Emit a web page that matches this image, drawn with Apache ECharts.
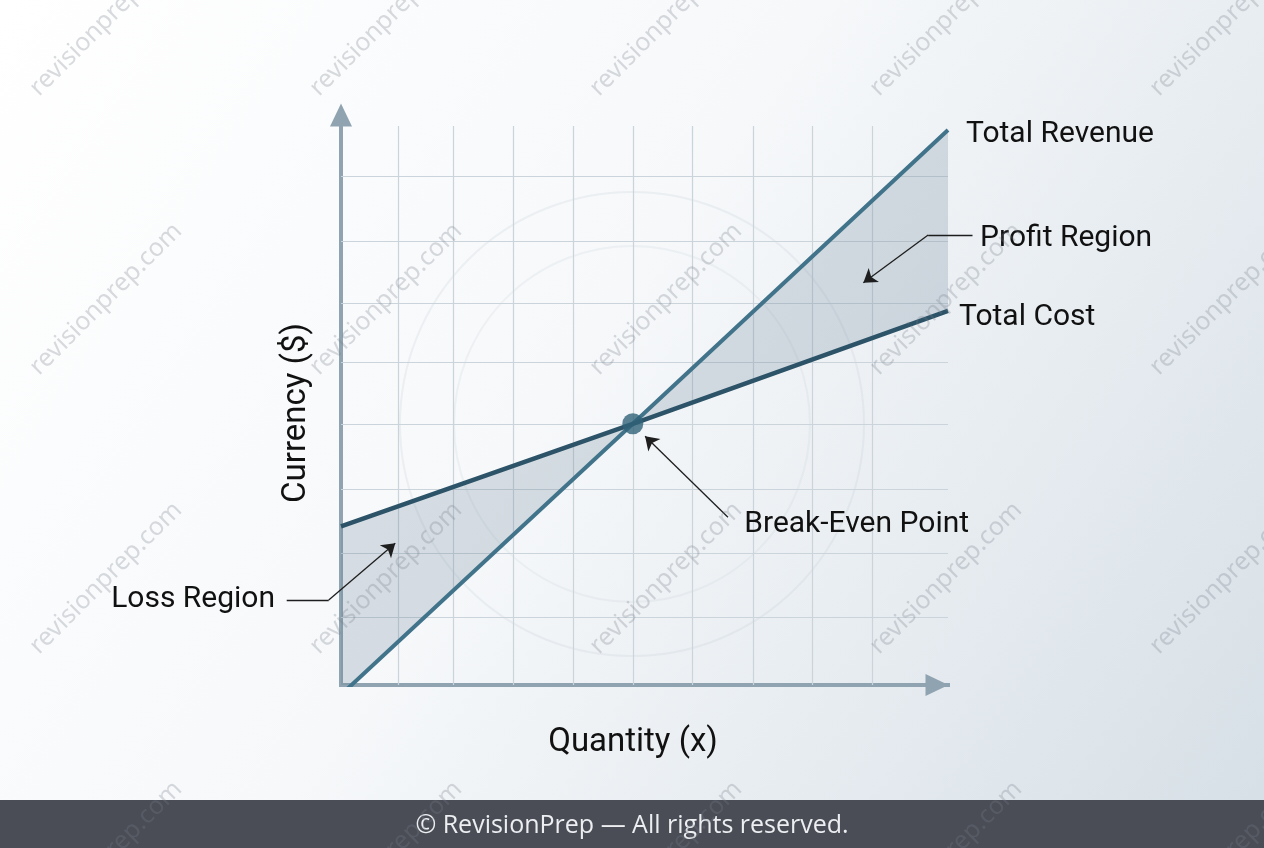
<!DOCTYPE html>
<html>
<head>
<meta charset="utf-8">
<script src="https://cdn.jsdelivr.net/npm/echarts@6/dist/echarts.min.js"></script>
<style>
html,body{margin:0;padding:0;background:#ffffff;}
#chart{width:1264px;height:848px;}
</style>
</head>
<body>
<div id="chart"></div>
<script>
// ---- data ----
const quantity = [0, 5, 10.4];
const totalRevenue = [-0.15, 4, 8.5];
const totalCost = [2.43, 4, 5.73];
const breakEven = [5, 4];
const gridX = [0.98, 1.92, 2.95, 3.98, 5, 6.02, 7.06, 8.07, 9.11];
const gridY = [1.03, 2.01, 2.99, 4, 4.94, 5.85, 6.80, 7.79];
const seriesNames = ['Total Revenue', 'Total Cost'];
const xAxisName = 'Quantity (x)';
const yAxisName = 'Currency ($)';
const regionNames = ['Profit Region', 'Loss Region', 'Break-Even Point'];
const footerText = '\u00A9 RevisionPrep \u2014 All rights reserved.';
const watermarkText = 'revisionprep.com';

// ---- annotation layout (data coordinates of leaders and labels) ----
const annotationLayout = {
  'Profit Region':    { label: [10.95, 6.88], pos: 'right', segs: [[[10.82, 6.89], [10.06, 6.89]]], arrow: [[10.06, 6.89], [8.95, 6.16]] },
  'Loss Region':      { label: [-1.13, 1.36], pos: 'left',  segs: [[[-0.93, 1.30], [-0.21, 1.30]]], arrow: [[-0.21, 1.30], [0.93, 2.17]] },
  'Break-Even Point': { label: [6.91, 2.50],  pos: 'right', segs: [], arrow: [[6.63, 2.57], [5.21, 3.81]] }
};

const FONT = 'Roboto, "Liberation Sans", sans-serif';
const TEXT = '#111111';
const chart = echarts.init(document.getElementById('chart'), null, { renderer: 'canvas' });

const plainSegs = [];
const arrowSegs = [];
const labelPts = [];
regionNames.forEach(n => {
  const a = annotationLayout[n];
  a.segs.forEach(s => plainSegs.push({ coords: s }));
  arrowSegs.push({ coords: a.arrow });
  labelPts.push({ name: n, value: a.label, label: { position: a.pos, color: TEXT } });
});

const watermarks = [];
for (let r = 0; r < 4; r++) {
  for (let c = 0; c < 5; c++) {
    watermarks.push({
      type: 'text', x: 106 + 280 * c, y: 20 + 279 * r, rotation: Math.PI / 4, z: 100, silent: true,
      style: { text: watermarkText, fill: 'rgba(120,126,136,0.28)', fontSize: 25, fontFamily: '"Noto Sans", sans-serif', align: 'center', verticalAlign: 'middle' }
    });
  }
}

const axisColor = '#8fa3b1';

function renderRegion(params, api) {
  const pts = [];
  for (let i = 0; i < quantity.length; i++) pts.push(api.coord([quantity[i], totalRevenue[i]]));
  for (let i = quantity.length - 1; i >= 0; i--) pts.push(api.coord([quantity[i], totalCost[i]]));
  return { type: 'polygon', shape: { points: pts }, style: { fill: 'rgba(105,130,150,0.24)' } };
}

const option = {
  animation: false,
  backgroundColor: new echarts.graphic.LinearGradient(0, 0, 1, 1, [
    { offset: 0, color: '#ffffff' },
    { offset: 0.45, color: '#f6f8fa' },
    { offset: 1, color: '#d6dfe6' }
  ]),
  grid: { left: 341, right: 316, top: 126, bottom: 163, containLabel: false },
  xAxis: {
    type: 'value', min: 0, max: 10.4,
    axisLine: { show: true, onZero: false, lineStyle: { color: axisColor, width: 4, cap: 'square' }, symbol: ['none', 'triangle'], symbolSize: [22, 23], symbolOffset: [0, -11] },
    axisTick: { show: false }, axisLabel: { show: false }, splitLine: { show: false },
    name: xAxisName, nameLocation: 'middle', nameGap: 41,
    nameTextStyle: { fontSize: 33, color: TEXT, fontFamily: FONT, padding: [0, 23, 0, 0] }
  },
  yAxis: {
    type: 'value', min: 0, max: 8.56,
    axisLine: { show: true, onZero: false, lineStyle: { color: axisColor, width: 4, cap: 'square' }, symbol: ['none', 'triangle'], symbolSize: [22, 23], symbolOffset: [0, 11] },
    axisTick: { show: false }, axisLabel: { show: false }, splitLine: { show: false },
    name: yAxisName, nameLocation: 'middle', nameGap: 28, nameRotate: 90,
    nameTextStyle: { fontSize: 33, color: TEXT, fontFamily: FONT, padding: [0, 15, 0, 0] }
  },
  series: [
    {
      name: 'regions', type: 'custom', renderItem: renderRegion, clip: true, silent: true, z: 2,
      data: [[quantity[0], totalCost[0]]],
      markLine: {
        silent: true, z: 1, symbol: ['none', 'none'], label: { show: false },
        lineStyle: { color: '#cbd4db', width: 1.2, type: 'solid' },
        emphasis: { disabled: true },
        data: gridX.map(v => ({ xAxis: v })).concat(gridY.map(v => ({ yAxis: v })))
      }
    },
    {
      name: seriesNames[0], type: 'line', data: quantity.map((q, i) => [q, totalRevenue[i]]), symbol: 'none', z: 3,
      lineStyle: { color: '#41748a', width: 4 },
      endLabel: { show: true, formatter: seriesNames[0], distance: 18, offset: [0, 5], fontSize: 30, color: TEXT, fontFamily: FONT }
    },
    {
      name: seriesNames[1], type: 'line', data: quantity.map((q, i) => [q, totalCost[i]]), symbol: 'none', z: 3,
      lineStyle: { color: '#2c5367', width: 4.5 },
      endLabel: { show: true, formatter: seriesNames[1], distance: 11, offset: [0, 7], fontSize: 30, color: TEXT, fontFamily: FONT }
    },
    {
      name: 'Break-Even', type: 'scatter', data: [breakEven], symbol: 'circle', symbolSize: 21, z: 5,
      itemStyle: { color: '#2f6379' }
    },
    {
      name: 'leaders', type: 'lines', coordinateSystem: 'cartesian2d', clip: false, silent: true, z: 6,
      symbol: ['none', 'none'], lineStyle: { color: '#1e1e1e', width: 1.3, opacity: 1, curveness: 0 },
      data: plainSegs
    },
    {
      name: 'arrows', type: 'lines', coordinateSystem: 'cartesian2d', clip: false, silent: true, z: 6,
      symbol: ['none', 'arrow'], symbolSize: 13, lineStyle: { color: '#1e1e1e', width: 1.3, opacity: 1, curveness: 0 },
      data: arrowSegs
    },
    {
      name: 'annotations', type: 'scatter', clip: false, silent: true, z: 7, symbolSize: 0,
      itemStyle: { color: TEXT, opacity: 1 },
      label: { show: true, formatter: p => p.name, distance: 0, offset: [0, 3], fontSize: 30, color: TEXT, fontFamily: FONT },
      data: labelPts
    }
  ],
  graphic: [
    { type: 'circle', silent: true, z: 0, shape: { cx: 632, cy: 424, r: 232 }, style: { fill: 'none', stroke: 'rgba(175,188,200,0.16)', lineWidth: 2 } },
    { type: 'circle', silent: true, z: 0, shape: { cx: 632, cy: 424, r: 178 }, style: { fill: 'none', stroke: 'rgba(175,188,200,0.14)', lineWidth: 2 } },
    { type: 'rect', silent: true, z: 50, shape: { x: 0, y: 800, width: 1264, height: 48 }, style: { fill: '#4a4d56' } },
    { type: 'text', silent: true, z: 51, x: 632, y: 826, style: { text: footerText, fill: '#eceef1', fontSize: 25, fontFamily: '"Open Sans", "Noto Sans", sans-serif', align: 'center', verticalAlign: 'middle' } }
  ].concat(watermarks)
};

chart.setOption(option);
</script>
</body>
</html>
